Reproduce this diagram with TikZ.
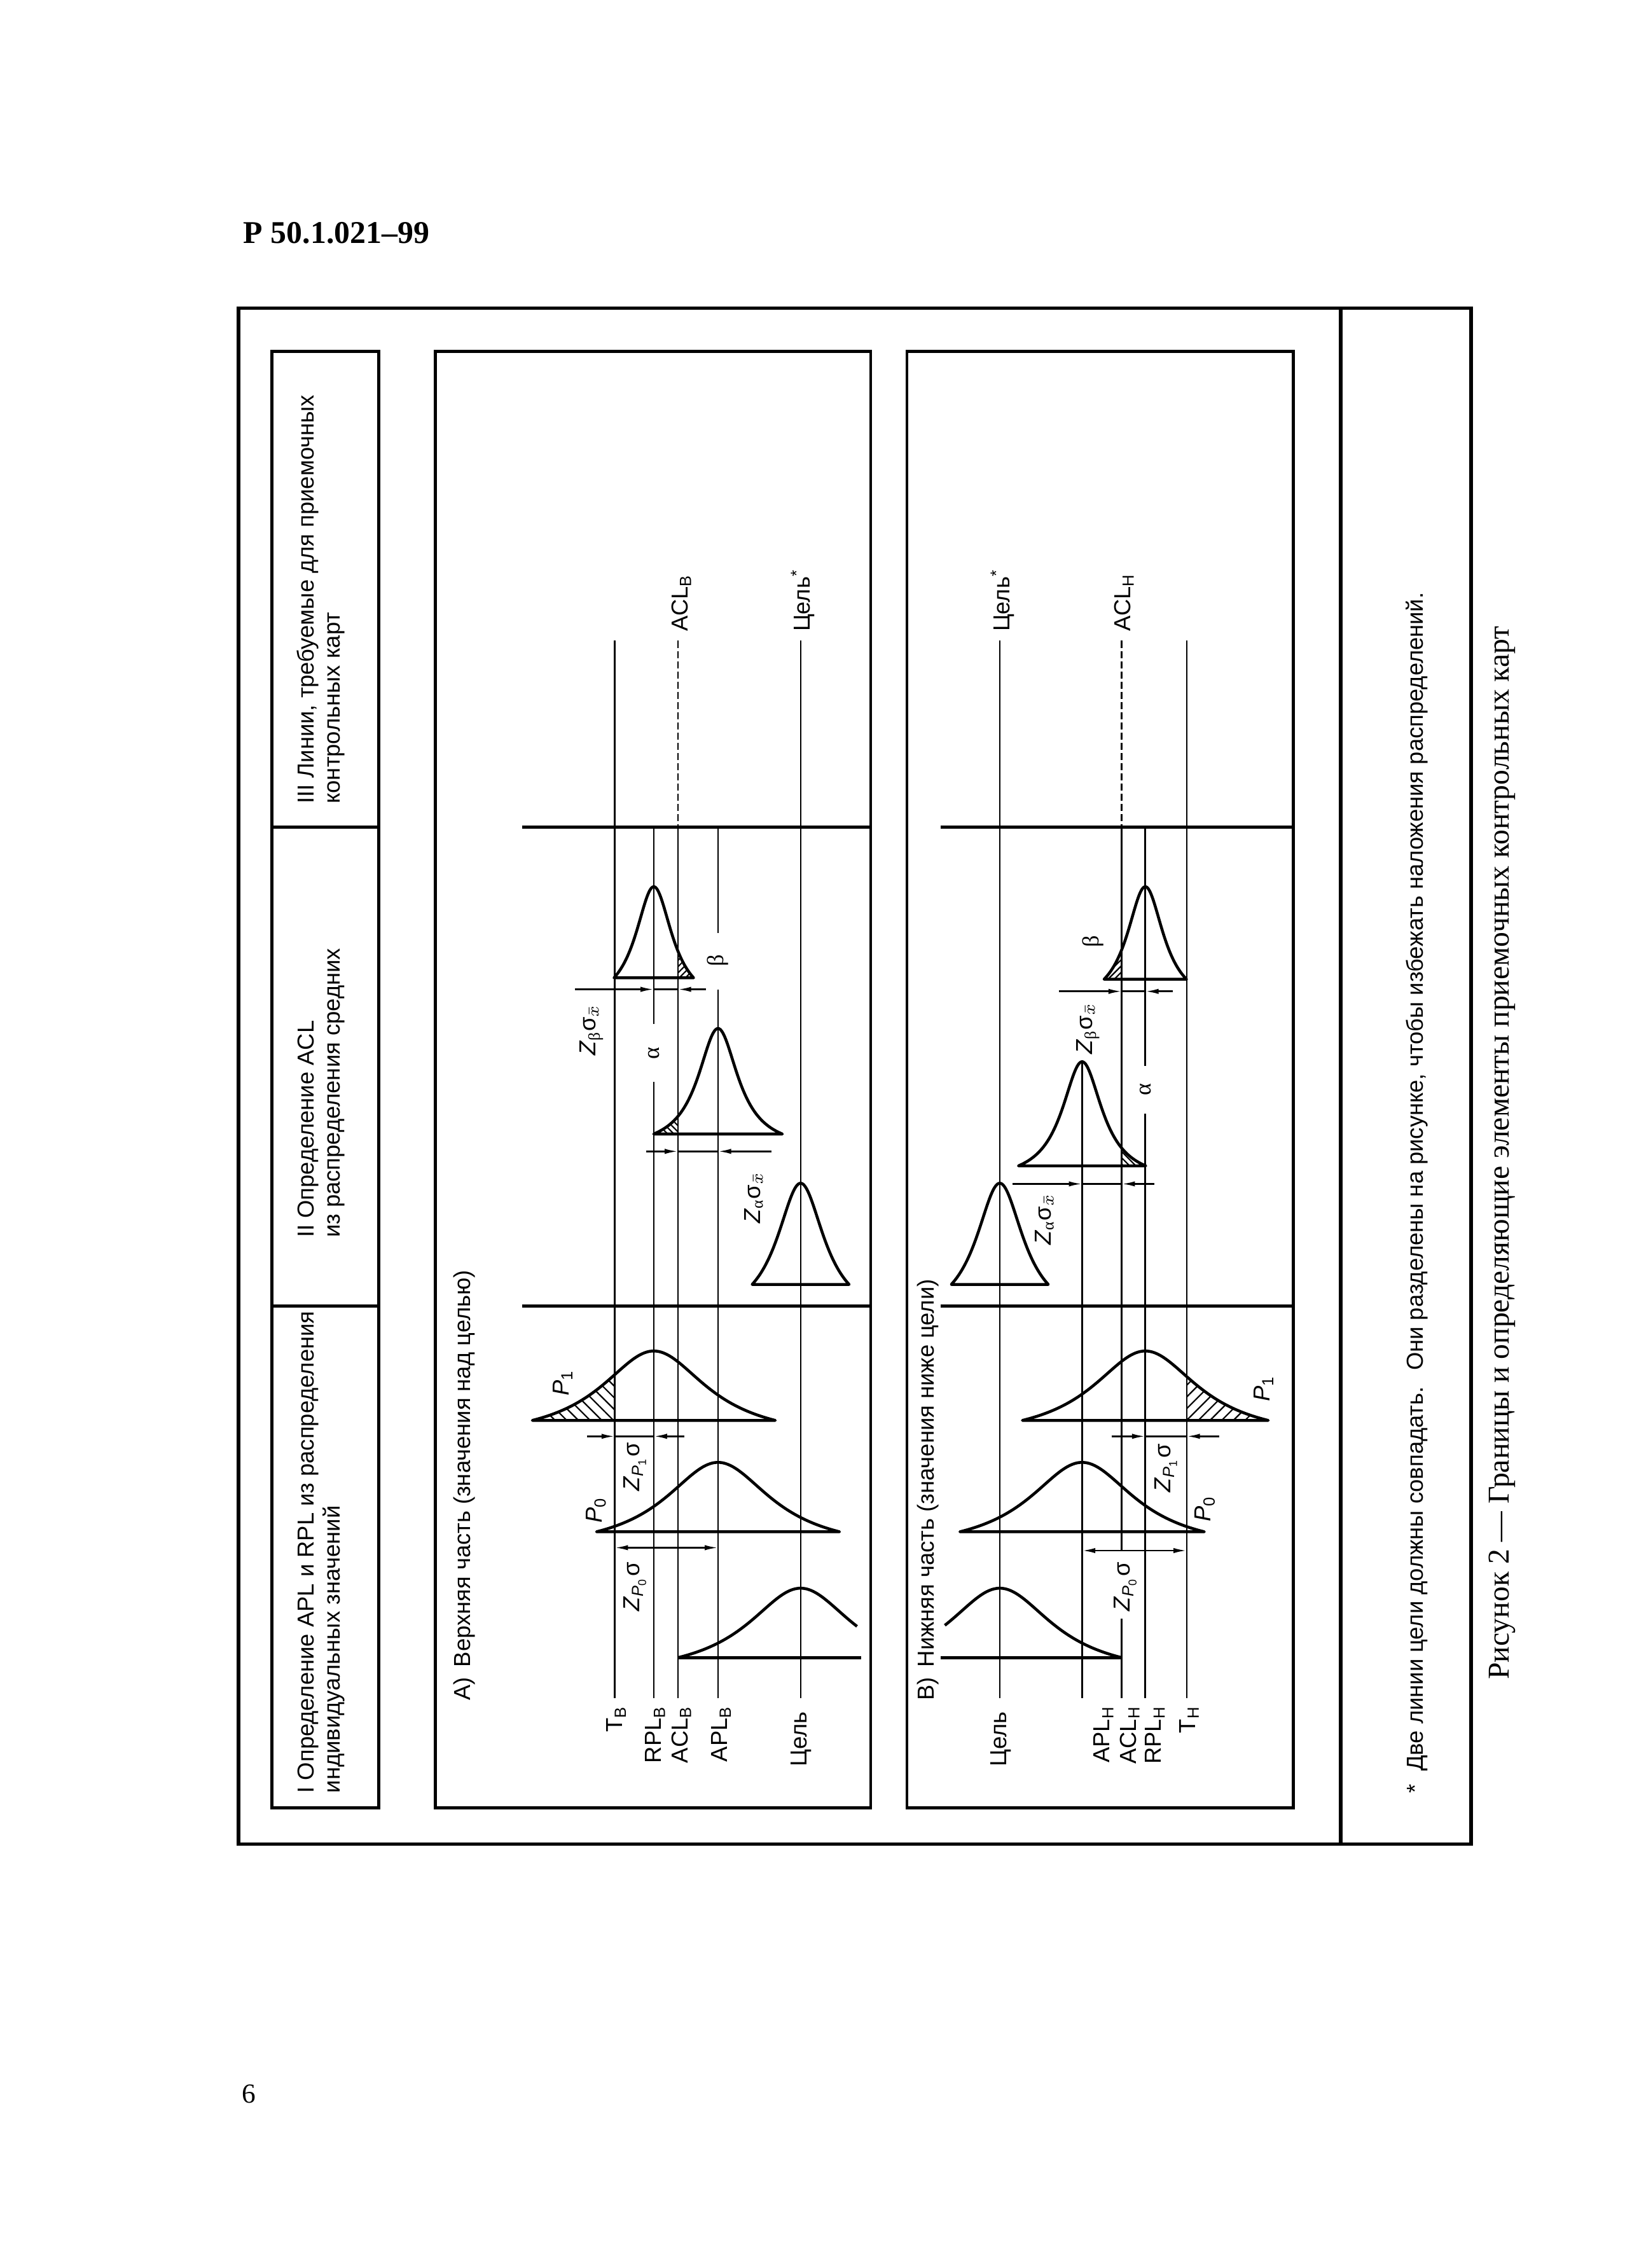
\documentclass[tikz,border=0pt]{standalone}
\usepackage{fontspec}
\setmainfont{Liberation Sans}
\newfontfamily\serifrm{Liberation Serif}
\usetikzlibrary{arrows.meta,patterns.meta}
\newcommand{\gr}[1]{{\serifrm #1}}
\newcommand{\Zp}[1]{\textit{Z}\textsubscript{\textit{P}\textsubscript{#1}}σ}
\newcommand{\Zs}[1]{\textit{Z}\textsubscript{\gr{#1}}σ\textsubscript{$\bar{x}$}}
\newcommand{\Pn}[1]{\textit{P}\textsubscript{#1}}
% \bellline{cx}{base}{H}{a}{T}{t0}{t1}{suffix}
\newcommand{\bellline}[8]{\draw[bell] plot[domain=#6:#7,samples=90,variable=\t]({#1+\t},{#2-(#3)*bellf(\t,#4,#5)}) #8;}
% \bellfill{style}{cx}{base}{H}{a}{T}{t0}{t1}
\newcommand{\bellfill}[8]{\fill[#1] plot[domain=#7:#8,samples=50,variable=\t]({#2+\t},{#3-(#4)*bellf(\t,#5,#6)}) -- ({#2+(#8)},#3) -- ({#2+(#7)},#3) -- cycle;}
\tikzset{
  frame/.style={line width=1.3pt},
  box/.style={line width=1.1pt},
  lvl/.style={line width=0.6pt},
  dashlvl/.style={line width=0.6pt,dash pattern=on 2.6pt off 1.1pt},
  bell/.style={line width=1.05pt,line join=round},
  dim/.style={line width=0.6pt},
  arr/.style={-{Latex[length=4.8pt,width=1.9pt]},line width=0.6pt},
  darr/.style={{Latex[length=4.8pt,width=1.9pt]}-{Latex[length=4.8pt,width=1.9pt]},line width=0.6pt},
  txt/.style={font=\fontsize{8.4}{10}\selectfont,inner sep=0pt},
  lbl/.style={txt,rotate=90},
  hbig/.style={pattern={Lines[angle=-45,distance=3pt,line width=0.5pt]}},
  sbig/.style={pattern={Lines[angle=45,distance=3pt,line width=0.5pt]}},
  hsm/.style={pattern={Lines[angle=-45,distance=1.6pt,line width=0.5pt]}},
  ssm/.style={pattern={Lines[angle=45,distance=1.6pt,line width=0.5pt]}},
}
\begin{document}
\begin{tikzpicture}[x=0.525pt,y=-0.525pt,
  declare function={bellf(\xa,\xb,\xc)=(1/(1+(\xa/\xb)*(\xa/\xb))-1/(1+(\xc/\xb)*(\xc/\xb)))/(1-1/(1+(\xc/\xb)*(\xc/\xb)));}]
\fill[white] (0,0) rectangle (1133,1568);
\useasboundingbox (0,0) rectangle (1133,1568);

% page header and number
\node[anchor=base west,inner sep=0,font=\serifrm\bfseries\fontsize{11.5}{13}\selectfont] (hdr) at (168,168) {Р 50.1.021–99};
\node[anchor=base west,inner sep=0,font=\serifrm\fontsize{10}{12}\selectfont] (pageno) at (167,1454) {6};

% frames
\draw[frame] (165,213) rectangle (1017,1275);
\draw[frame] (927,213) -- (927,1275);
\draw[box] (188,243) rectangle (262,1250);
\draw[box] (188,572) -- (262,572) (188,903) -- (262,903);
\draw[box] (301,243) rectangle (602,1250);
\draw[box] (361,572) -- (602,572) (361,903) -- (602,903);
\draw[box] (627,243) rectangle (894,1250);
\draw[box] (650.4,572) -- (894,572) (650.4,903) -- (894,903);

% column headers
\node[lbl,anchor=base west] (c1a) at (217,1240) {I Определение APL и RPL из распределения};
\node[lbl,anchor=base west] (c1b) at (235,1240) {индивидуальных значений};
\node[lbl,anchor=base west] (c2a) at (217,856) {II Определение ACL};
\node[lbl,anchor=base west] (c2b) at (235,856) {из распределения средних};
\node[lbl,anchor=base west] (c3a) at (217,556) {III Линии, требуемые для приемочных};
\node[lbl,anchor=base west] (c3b) at (235,556) {контрольных карт};

% panel titles
\node[lbl,anchor=west] (tA) at (321,1176) {A)\, Верхняя часть (значения над целью)};
\node[lbl,anchor=west] (tB) at (641.5,1176) {B)\, Нижняя часть (значения ниже цели)};

% ---------------- Panel A ----------------
\draw[lvl] (425,443) -- (425,1174);
\draw[dashlvl] (468.7,443) -- (468.7,572);
\draw[lvl] (468.7,572) -- (468.7,1174);
\draw[lvl] (553.5,443) -- (553.5,1174);
\draw[lvl] (452,572) -- (452,708) (452,748) -- (452,1174);
\draw[lvl] (496.4,572) -- (496.4,645) (496.4,684) -- (496.4,1174);

% hatches A
\bellfill{hbig}{452}{982}{48}{45}{84}{-84}{-27}
\bellfill{ssm}{452}{676}{63}{15.5}{27.5}{16.7}{27.5}
\bellfill{hsm}{496.4}{784}{73}{17}{44.5}{-44.5}{-27.7}

% bells A
\bellline{452}{982}{48}{45}{84}{-84}{84}{-- cycle}
\bellline{496.4}{1059}{48}{45}{84}{-84}{84}{-- cycle}
\bellline{553.5}{1146}{48}{45}{84.8}{-84.8}{39}{}
\draw[bell] (468.7,1146) -- (595.4,1146);
\bellline{452}{676}{63}{15.5}{27.5}{-27.5}{27.5}{-- cycle}
\bellline{496.4}{784}{73}{17}{44.5}{-44.5}{44.5}{-- cycle}
\bellline{553.5}{888}{70}{20}{33.5}{-33.5}{33.5}{-- cycle}

% dimensions A
\draw[arr] (397.5,684) -- (452,684);
\draw[arr] (488,684) -- (468.7,684);
\draw[dim] (452,684) -- (468.7,684);
\draw[arr] (446.7,796) -- (468.7,796);
\draw[arr] (533.3,796) -- (496.4,796);
\draw[dim] (468.7,796) -- (496.4,796);
\draw[arr] (406,993) -- (425,993);
\draw[arr] (473,993) -- (452,993);
\draw[dim] (425,993) -- (452,993);
\draw[darr] (425,1070) -- (496.4,1070);

% labels A
\node[lbl] (aP1) at (389,956) {\Pn{1}};
\node[lbl] (aZP1) at (439,1014) {\Zp{1}};
\node[lbl] (aP0) at (412,1044) {\Pn{0}};
\node[lbl] (aZP0) at (439,1097) {\Zp{0}};
\node[lbl] (aZb) at (409,712) {\Zs{β}};
\node[lbl] (aal) at (452,728) {\gr{α}};
\node[lbl] (abe) at (496.4,664) {\gr{β}};
\node[lbl] (aZa) at (521,828) {\Zs{α}};

\node[lbl,anchor=east] (aT) at (426,1179) {T\textsubscript{В}};
\node[lbl,anchor=east] (aRPL) at (453,1179) {RPL\textsubscript{В}};
\node[lbl,anchor=east] (aACL) at (471,1179) {ACL\textsubscript{В}};
\node[lbl,anchor=east] (aAPL) at (498.5,1179) {APL\textsubscript{В}};
\node[lbl,anchor=east] (aC) at (554,1183) {Цель};
\node[lbl,anchor=west] (aACLt) at (471,437) {ACL\textsubscript{В}};
\node[lbl,anchor=west] (aCt) at (555,437) {Цель\textsuperscript{*}};

% ---------------- Panel B ----------------
\draw[lvl] (691.2,443) -- (691.2,1174);
\draw[lvl] (748.1,733) -- (748.1,1174);
\draw[dashlvl] (775.5,443) -- (775.5,572);
\draw[lvl] (775.5,572) -- (775.5,1072) (775.5,1119) -- (775.5,1174);
\draw[lvl] (791.8,572) -- (791.8,737) (791.8,770) -- (791.8,1174);
\draw[lvl] (820.4,443) -- (820.4,1174);

% hatches B
\bellfill{sbig}{791.8}{982}{48}{45}{85}{28.6}{85}
\bellfill{ssm}{791.8}{677}{64}{15.5}{28.5}{-28.5}{-16.3}
\bellfill{hsm}{748.1}{806}{72}{17}{44}{27.4}{44}

% bells B
\bellline{791.8}{982}{48}{45}{85}{-85}{85}{-- cycle}
\bellline{748.1}{1059}{48}{45}{84.5}{-84.5}{84.5}{-- cycle}
\bellline{691.2}{1146}{48}{45}{84.3}{-38}{84.3}{}
\draw[bell] (650.4,1146) -- (775.5,1146);
\bellline{791.8}{677}{64}{15.5}{28.5}{-28.5}{28.5}{-- cycle}
\bellline{748.1}{806}{72}{17}{44}{-44}{44}{-- cycle}
\bellline{691.2}{888}{70}{20}{33.5}{-33.5}{33.5}{-- cycle}

% dimensions B
\draw[arr] (732,685.4) -- (775.5,685.4);
\draw[arr] (811,685.4) -- (791.8,685.4);
\draw[dim] (775.5,685.4) -- (791.8,685.4);
\draw[arr] (700,818.5) -- (748.1,818.5);
\draw[arr] (798,818.5) -- (775.5,818.5);
\draw[dim] (748.1,818.5) -- (775.5,818.5);
\draw[arr] (768.5,993) -- (791.8,993);
\draw[arr] (843,993) -- (820.4,993);
\draw[dim] (791.8,993) -- (820.4,993);
\draw[darr] (748.1,1072) -- (820.4,1072);

% labels B
\node[lbl] (bP1) at (873.6,960) {\Pn{1}};
\node[lbl] (bZP1) at (806,1015) {\Zp{1}};
\node[lbl] (bP0) at (833,1043) {\Pn{0}};
\node[lbl] (bZP0) at (778,1097) {\Zp{0}};
\node[lbl] (bZb) at (752,711) {\Zs{β}};
\node[lbl] (bal) at (791.8,753) {\gr{α}};
\node[lbl] (bbe) at (755.5,651) {\gr{β}};
\node[lbl] (bZa) at (722,843) {\Zs{α}};

\node[lbl,anchor=east] (bC) at (692,1183) {Цель};
\node[lbl,anchor=east] (bAPL) at (763,1179) {APL\textsubscript{Н}};
\node[lbl,anchor=east] (bACL) at (781,1179) {ACL\textsubscript{Н}};
\node[lbl,anchor=east] (bRPL) at (798.5,1179) {RPL\textsubscript{Н}};
\node[lbl,anchor=east] (bT) at (822,1179) {T\textsubscript{Н}};
\node[lbl,anchor=west] (bCt) at (693,437) {Цель\textsuperscript{*}};
\node[lbl,anchor=west] (bACLt) at (777,437) {ACL\textsubscript{Н}};

% footnote and caption
\node[lbl,anchor=base west] (foot) at (984,1240) {*\ \ Две линии цели должны совпадать.\hspace{0.7em}Они разделены на рисунке, чтобы избежать наложения распределений.};
\node[rotate=90,inner sep=0,anchor=base,font=\serifrm\fontsize{11}{13}\selectfont] (capt) at (1043,797) {Рисунок 2 — Границы и определяющие элементы приемочных контрольных карт};
\end{tikzpicture}
\end{document}
